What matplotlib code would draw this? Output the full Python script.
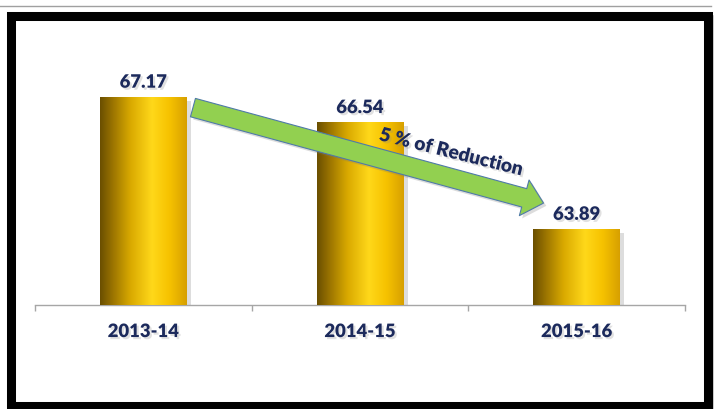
import numpy as np
import matplotlib
matplotlib.use("Agg")
import matplotlib.pyplot as plt
import matplotlib.patheffects as pe
from matplotlib.patches import Rectangle, FancyArrowPatch
from matplotlib.colors import LinearSegmentedColormap
from matplotlib.lines import Line2D

years = ["2013-14", "2014-15", "2015-16"]
values = [67.17, 66.54, 63.89]
note = "5 % of Reduction"
base = 62.0

navy = "#1c2a5c"
gold = LinearSegmentedColormap.from_list("gold", [
    (0.0, "#6a4e00"), (0.15, "#9c7500"), (0.35, "#d9a900"),
    (0.6, "#ffd81a"), (0.8, "#f6c200"), (1.0, "#d7a000")])

plt.rcParams["font.family"] = ["Lato", "DejaVu Sans"]

fig = plt.figure(figsize=(7.17, 4.09), dpi=100)
ax = fig.add_axes([35/717, 1-305/409, 650/717, 282/409])

x = np.arange(len(years))
shadow = [pe.SimplePatchShadow(offset=(3, -3), shadow_rgbFace="#555555", alpha=0.2)]
bars = ax.bar(x, [v - base for v in values], width=0.4, bottom=base, color="none", zorder=2)
grad = np.linspace(0, 1, 256).reshape(1, -1)
for b in bars:
    b.set_path_effects(shadow)
    im = ax.imshow(grad, cmap=gold, aspect="auto", zorder=3,
                   extent=[b.get_x(), b.get_x() + b.get_width(), base, base + b.get_height()])
    im.set_clip_path(b)

ax.set_xlim(-0.5, 2.5)
ax.set_ylim(base, 69)

txt_fx = [pe.withSimplePatchShadow(offset=(1.5, -1.5), shadow_rgbFace="#888888", alpha=0.25)]
for xi, v in zip(x, values):
    ax.annotate(f"{v:.2f}", (xi, v), xytext=(0, 6.5), textcoords="offset points",
                ha="center", va="baseline", fontsize=13.3, fontweight="heavy",
                color=navy, path_effects=txt_fx, zorder=5)

for s in ["top", "left", "right"]:
    ax.spines[s].set_visible(False)
ax.spines["bottom"].set_color("#a6a6a6")
ax.spines["bottom"].set_linewidth(1)
ax.set_yticks([])
ax.set_xticks(x)
ax.set_xticklabels(years, fontsize=13.3, fontweight="heavy", color=navy)
for t in ax.get_xticklabels():
    t.set_path_effects(txt_fx)
ax.set_xticks(np.arange(-0.5, 3, 1), minor=True)
ax.tick_params(axis="x", which="major", length=0, pad=13)
ax.tick_params(axis="x", which="minor", length=4.3, color="#a6a6a6", width=1)
ax.patch.set_alpha(0)

# reduction arrow
arr = FancyArrowPatch((0.229, 66.90), (1.847, 64.53),
                      arrowstyle="simple,head_length=14.4,head_width=26.6,tail_width=13.7",
                      mutation_scale=1, shrinkA=0, shrinkB=0,
                      facecolor="#92d050", edgecolor="#4f7aa8", linewidth=0.8, zorder=4,
                      path_effects=[pe.SimplePatchShadow(offset=(2, -2), shadow_rgbFace="#777777", alpha=0.25), pe.Normal()])
ax.add_patch(arr)
ax.text(1.42, 65.79, note, rotation=-14, ha="center", va="center", fontsize=13.8,
        fontweight="heavy", color=navy, path_effects=txt_fx, zorder=6)

# frame around the chart
fig.patches.append(Rectangle((13/717, 1/409), 698/717, 390/409,
                             transform=fig.transFigure, facecolor="none",
                             edgecolor="#c0c0c0", linewidth=4, zorder=0))
fig.patches.append(Rectangle((11/717, 3/409), 696.5/717, 390/409,
                             transform=fig.transFigure, facecolor="none",
                             edgecolor="black", linewidth=6.5, zorder=1))
fig.lines.append(Line2D([0, 711/717], [1-6/409, 1-6/409], transform=fig.transFigure,
                        color="#a0a0a0", linewidth=1))

fig.savefig("out.png", dpi=100)
